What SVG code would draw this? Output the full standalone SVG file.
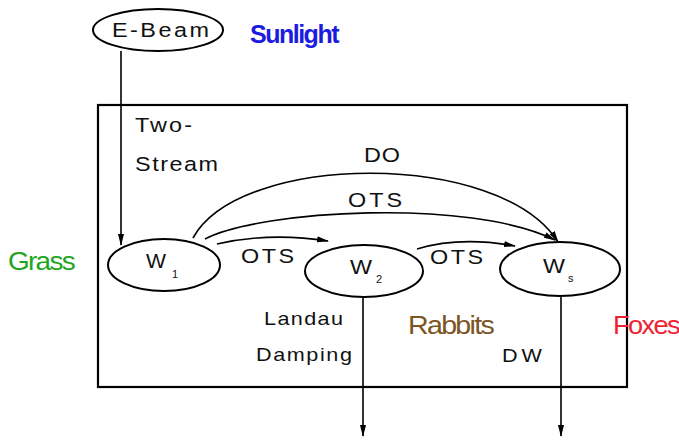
<svg xmlns="http://www.w3.org/2000/svg" width="679" height="442" viewBox="0 0 679 442">
<style>
.ln{fill:none;stroke:#000;stroke-width:1.6}
.nd{fill:#fff;stroke:#000;stroke-width:2}
.t{font-family:"Liberation Sans",Arial,sans-serif;font-size:19.5px;fill:#111}
.s{font-size:18px}
.sub{font-family:"Liberation Sans",Arial,sans-serif;font-size:11px;fill:#111}
.lab{font-family:"Liberation Sans",Arial,sans-serif;font-size:25px;letter-spacing:-1.5px}
</style>
<defs>
<marker id="ah" viewBox="0 0 12 8" refX="11" refY="4" markerWidth="12" markerHeight="8" markerUnits="userSpaceOnUse" orient="auto">
<path d="M0,1 L12,4 L0,7 Z" fill="#000"/>
</marker>
</defs>
<rect x="98" y="105" width="529" height="282" fill="none" stroke="#000" stroke-width="2.2"/>
<g id="connectors">
<line class="ln" x1="121" y1="51" x2="121" y2="245" marker-end="url(#ah)"/>
<path class="ln" d="M193,238 C240,152 500,150 558,242" marker-end="url(#ah)"/>
<path class="ln" d="M205,239 C260,210 470,198 555,240" marker-end="url(#ah)"/>
<path class="ln" d="M217,244 Q270,232 328,241" marker-end="url(#ah)"/>
<path class="ln" d="M417,249 Q460,236 515,246" marker-end="url(#ah)"/>
<line class="ln" x1="363" y1="297" x2="363" y2="436" marker-end="url(#ah)"/>
<line class="ln" x1="561" y1="296" x2="561" y2="436" marker-end="url(#ah)"/>
</g>
<g id="ebeam">
<ellipse class="nd" cx="158" cy="30" rx="65" ry="21"/>
<text class="t" transform="translate(112,37) scale(1.2,1)" textLength="80.8" lengthAdjust="spacing">E-Beam</text>
</g>
<g id="w1">
<ellipse class="nd" cx="164" cy="265" rx="56" ry="26"/>
<text class="t" x="146" y="268" textLength="20" lengthAdjust="spacingAndGlyphs">W</text>
<text class="sub" x="172" y="278">1</text>
</g>
<g id="w2">
<ellipse class="nd" cx="364" cy="271" rx="59" ry="26"/>
<text class="t" x="350" y="274" textLength="22" lengthAdjust="spacingAndGlyphs">W</text>
<text class="sub" x="376" y="283">2</text>
</g>
<g id="ws">
<ellipse class="nd" cx="560" cy="269" rx="60" ry="27"/>
<text class="t" x="543" y="273" textLength="22" lengthAdjust="spacingAndGlyphs">W</text>
<text class="sub" x="568" y="282">s</text>
</g>
<g id="labels">
<text class="t" transform="translate(135,132) scale(1.2,1)" textLength="47.5" lengthAdjust="spacing">Two-</text>
<text class="t" transform="translate(135,171) scale(1.2,1)" textLength="69.2" lengthAdjust="spacing">Stream</text>
<text class="t" transform="translate(364,162) scale(1.2,1)" textLength="30" lengthAdjust="spacing">DO</text>
<text class="t" transform="translate(348,207) scale(1.2,1)" textLength="45" lengthAdjust="spacing">OTS</text>
<text class="t" transform="translate(241,263) scale(1.2,1)" textLength="44.2" lengthAdjust="spacing">OTS</text>
<text class="t" transform="translate(430,264) scale(1.2,1)" textLength="44.2" lengthAdjust="spacing">OTS</text>
<text class="t s" transform="translate(264,325) scale(1.2,1)" textLength="65.8" lengthAdjust="spacing">Landau</text>
<text class="t s" transform="translate(256,361) scale(1.2,1)" textLength="80" lengthAdjust="spacing">Damping</text>
<text class="t s" transform="translate(502,362) scale(1.2,1)" textLength="33.3" lengthAdjust="spacing">DW</text>
<text class="lab" x="250" y="43" fill="#1c1ce0" font-weight="bold" font-size="22" textLength="88" lengthAdjust="spacingAndGlyphs">Sunlight</text>
<text class="lab" x="8" y="270" fill="#1fa51f" textLength="66" lengthAdjust="spacingAndGlyphs">Grass</text>
<text class="lab" x="408" y="334" fill="#7b5524" textLength="85" lengthAdjust="spacingAndGlyphs">Rabbits</text>
<text class="lab" x="613" y="334" fill="#ee2233" textLength="66" lengthAdjust="spacingAndGlyphs">Foxes</text>
</g>
</svg>
